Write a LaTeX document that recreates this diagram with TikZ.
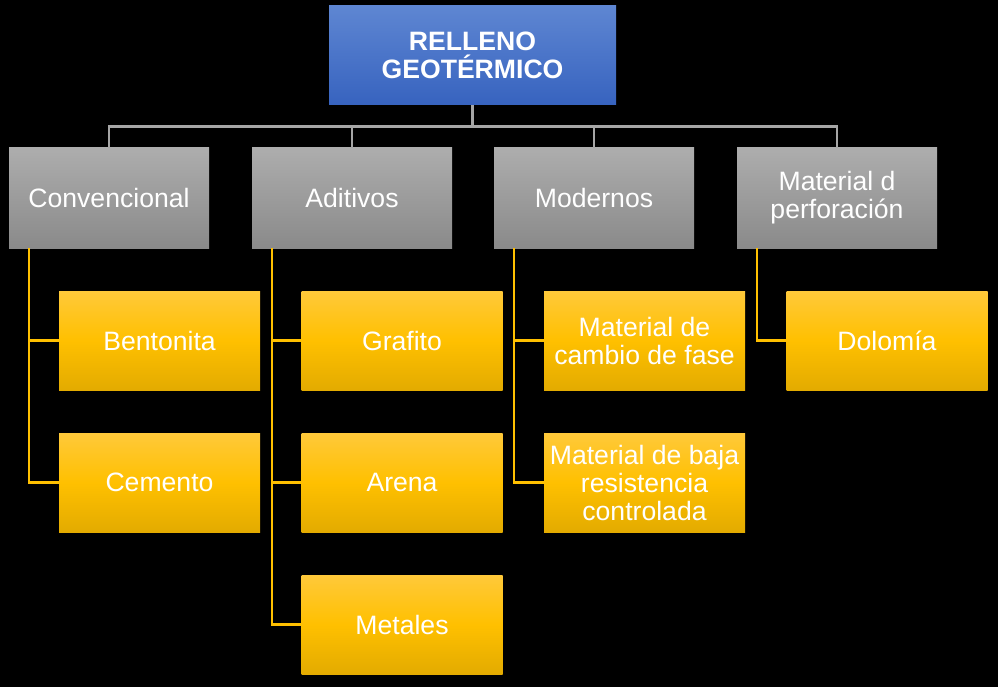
\documentclass[tikz,border=0pt]{standalone}
\usepackage{fontspec}
\setmainfont{Liberation Sans}
\definecolor{bluetop}{HTML}{5E86D2}
\definecolor{bluebot}{HTML}{3763BF}
\definecolor{graytop}{HTML}{ADADAD}
\definecolor{graybot}{HTML}{8A8A8A}
\definecolor{goldtop}{HTML}{FFC93A}
\definecolor{goldmid}{HTML}{FFC000}
\definecolor{goldbot}{HTML}{E3AB00}
\definecolor{gline}{HTML}{A6A6A6}
\definecolor{yline}{HTML}{FFC000}
\begin{document}
\begin{tikzpicture}[x=1pt,y=-1pt,
  txt/.style={font=\fontsize{26.6}{28}\selectfont, text=white, align=center, inner sep=0pt},
  rootbox/.style={txt, font=\fontsize{26.6}{27.5}\selectfont\bfseries, rectangle, minimum width=287pt, minimum height=99pt, top color=bluetop, bottom color=bluebot},
  catbox/.style={txt, rectangle, minimum width=200pt, minimum height=100pt, top color=graytop, bottom color=graybot},
  itembox/.style={txt, rectangle, minimum width=201pt, minimum height=99pt, top color=goldtop, bottom color=goldbot, middle color=goldmid},
  glink/.style={draw=gline, line width=2.6pt},
  ylink/.style={draw=yline, line width=2.2pt}]
\fill[black] (0,0) rectangle (998,687);
\useasboundingbox (0,0) rectangle (998,687);

\node[rootbox] (root) at (472.5,55.5) {RELLENO\\GEOTÉRMICO};

\node[catbox] (c1) at (109,198) {Convencional};
\node[catbox] (c2) at (352,198) {Aditivos};
\node[catbox] (c3) at (594,198) {Modernos};
\node[catbox] (c4) at (837,198) {Material d\\perforación};

\node[itembox] (b1) at (159.5,340.5) {Bentonita};
\node[itembox] (b2) at (159.5,482.5) {Cemento};
\node[itembox] (a1) at (402,340.5) {Grafito};
\node[itembox] (a2) at (402,482.5) {Arena};
\node[itembox] (a3) at (402,624.5) {Metales};
\node[itembox] (m1) at (644.5,340.5) {Material de\\cambio de fase};
\node[itembox] (m2) at (644.5,482.5) {Material de baja\\resistencia\\controlada};
\node[itembox] (p1) at (887,340.5) {Dolomía};

\foreach \c in {c1,c2,c3,c4}
  \draw[glink] (root.south) -- ++(0,21.5) -| (\c.north);

\draw[ylink] ([xshift=20pt]c1.south west) |- (b1.west);
\draw[ylink] ([xshift=20pt]c1.south west) |- (b2.west);
\draw[ylink] ([xshift=20pt]c2.south west) |- (a1.west);
\draw[ylink] ([xshift=20pt]c2.south west) |- (a2.west);
\draw[ylink] ([xshift=20pt]c2.south west) |- (a3.west);
\draw[ylink] ([xshift=20pt]c3.south west) |- (m1.west);
\draw[ylink] ([xshift=20pt]c3.south west) |- (m2.west);
\draw[ylink] ([xshift=20pt]c4.south west) |- (p1.west);
\end{tikzpicture}
\end{document}
